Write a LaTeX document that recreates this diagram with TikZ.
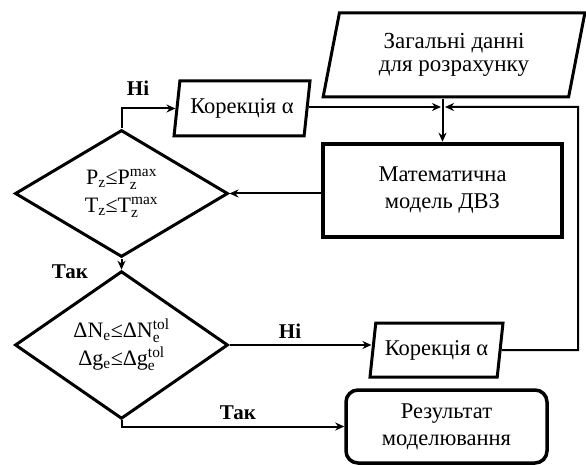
\documentclass[tikz,border=0pt]{standalone}
\usepackage{fontspec}
\setmainfont{Liberation Serif}
\usepackage{amsmath}
\usetikzlibrary{shapes.geometric,arrows.meta}
\newcommand{\subsupx}[2]{$_{\text{#1}}^{\text{#2}}$}
\begin{document}
\begin{tikzpicture}[x=1pt,y=-1pt,line join=miter,
  font=\fontsize{22.5}{27}\selectfont,
  box/.style={draw,line width=3pt,inner sep=0pt,align=center},
  para/.style={draw,line width=3pt,shape=trapezium,trapezium left angle=76,
    trapezium right angle=104,trapezium stretches=true,inner sep=0pt,align=center},
  dec/.style={draw,line width=3pt,shape=diamond,inner sep=0pt,
    minimum width=213pt,align=center,font=\fontsize{22}{28}\selectfont},
  conn/.style={line width=2pt},
  arr/.style={conn,-{Stealth[length=9pt,width=8pt]}},
  lab/.style={font=\fontsize{21}{24}\selectfont\bfseries}]
\useasboundingbox (0,0) rectangle (586,465);
\node[para,minimum width=262pt,minimum height=84pt,font=\fontsize{23}{22.5}\selectfont]
  (data) at (454,55) {Загальні данні\\для розрахунку};
\node[box,line width=4.5pt,minimum width=239pt,minimum height=93pt] (mm) at (442.5,190.5)
  {Математична\\модель ДВЗ};
\node[para,minimum width=136pt,minimum height=55pt] (k1) at (242,108.5) {Корекція α};
\node[para,minimum width=133pt,minimum height=54pt] (k2) at (436.5,350) {Корекція α};
\node[dec,minimum height=127pt] (d1) at (121.5,193.5)
  {P$_{\text{z}}$≤P\subsupx{z}{max}\\T$_{\text{z}}$≤T\subsupx{z}{max}};
\node[dec,minimum height=130pt] (d2) at (121.5,345)
  {ΔN$_{\text{e}}$≤ΔN\subsupx{e}{tol}\\Δg$_{\text{e}}$≤Δg\subsupx{e}{tol}};
\node[box,line width=3.5pt,rounded corners=12pt,minimum width=201pt,minimum height=73pt]
  (res) at (446.5,426.5) {Результат\\моделювання};
\node[lab] (l1) at (138,88) {Ні};
\node[lab] (l2) at (70,272) {Так};
\node[lab] (l3) at (290,331) {Ні};
\node[lab] (l4) at (238,413) {Так};
\coordinate (jl) at (441,107);
\coordinate (jr) at (445,107);
\coordinate (rt) at (578,107);
\coordinate (rb) at (578,350);
% connectors
\draw[arr] (data.south -| mm.north) -- (mm.north);
\draw[arr] (k1.east |- jl) -- (jl);
\draw[arr] (k2.east) -- (rb) -- (rt) -- (jr);
\draw[arr] (mm.west |- d1.east) -- (d1.east);
\draw[arr] (d1.north) |- (k1.west);
\draw[arr] (d1.south) -- (d2.north);
\draw[arr] (d2.east) -- (k2.west |- d2.east);
\draw[arr] (d2.south) |- (res.west);
\end{tikzpicture}
\end{document}
